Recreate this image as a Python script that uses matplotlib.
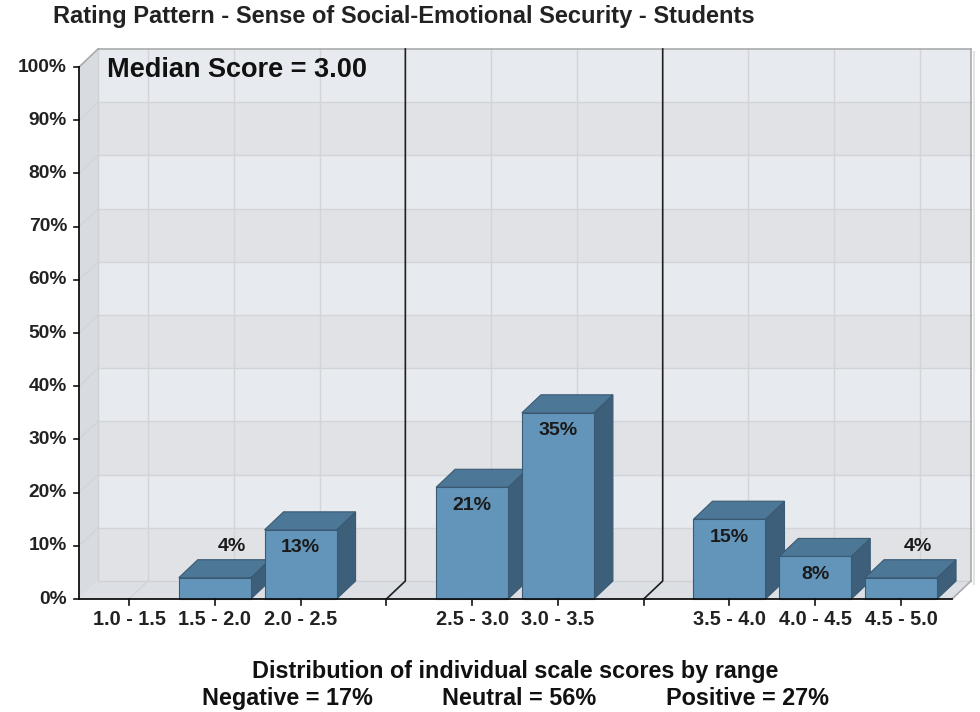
import matplotlib
matplotlib.use("Agg")
import matplotlib.pyplot as plt
from matplotlib.patches import Polygon

# ---------------- data ----------------
title = "Rating Pattern - Sense of Social-Emotional Security - Students"
median_text = "Median Score = 3.00"
ranges = ["1.0 - 1.5", "1.5 - 2.0", "2.0 - 2.5",
          "2.5 - 3.0", "3.0 - 3.5",
          "3.5 - 4.0", "4.0 - 4.5", "4.5 - 5.0"]
values = [0, 4, 13, 21, 35, 15, 8, 4]
group_sizes = [3, 2, 3]          # negative / neutral / positive
y_ticks = [0, 10, 20, 30, 40, 50, 60, 70, 80, 90, 100]
y_labels = [f"{v}%" for v in y_ticks]
footer1 = "Distribution of individual scale scores by range"
summary_labels = ["Negative = 17%", "Neutral = 56%", "Positive = 27%"]

# ---------------- styling ----------------
FONT = ["Liberation Sans", "DejaVu Sans"]
plt.rcParams["font.family"] = FONT
W, H = 980, 712
fig = plt.figure(figsize=(W / 100, H / 100), dpi=100)

px_left, px_right, px_bottom, px_top = 79, 952, 599, 67
ax = fig.add_axes([px_left / W, (H - px_bottom) / H,
                   (px_right - px_left) / W, (px_bottom - px_top) / H])

# slot positions (blank slot between groups)
positions = []
dividers = []
p = 0
for gi, g in enumerate(group_sizes):
    for _ in range(g):
        positions.append(p)
        p += 1
    if gi < len(group_sizes) - 1:
        dividers.append(p)
        p += 1
n_slots = p
x0, x1 = -0.583, n_slots - 1 + 0.594
ax.set_xlim(x0, x1)
ax.set_ylim(0, 100)
ax.axis("off")

slot_px = (px_right - px_left) / (x1 - x0)
py_per = (px_bottom - px_top) / 100.0
DX = 19 / slot_px
DY = 18 / py_per

wall_light = "#e7eaee"
wall_dark = "#e1e2e5"
side_col = "#d8dce0"
floor_col = "#dcdfe3"
grid_col = "#d2d4d7"
edge_gray = "#a9abad"

def poly(pts, fc, ec="none", lw=0, z=1):
    ax.add_patch(Polygon(pts, closed=True, facecolor=fc, edgecolor=ec,
                         linewidth=lw, zorder=z, clip_on=False))

# back wall bands
for i, y in enumerate(y_ticks[:-1]):
    col = wall_dark if (i % 2 == 0) else wall_light
    poly([(x0 + DX, y + DY), (x1 + DX, y + DY), (x1 + DX, y + 10 + DY),
          (x0 + DX, y + 10 + DY)], col, z=1)
# side wall
poly([(x0, 0), (x0 + DX, DY), (x0 + DX, 100 + DY), (x0, 100)], side_col, z=1)
# floor
poly([(x0, 0), (x1, 0), (x1 + DX, DY), (x0 + DX, DY)], floor_col, z=1)

# grid lines
for y in y_ticks[1:-1]:
    ax.plot([x0 + DX, x1 + DX], [y + DY, y + DY], color=grid_col, lw=1,
            zorder=2, clip_on=False)
    ax.plot([x0, x0 + DX], [y, y + DY], color=grid_col, lw=1, zorder=2,
            clip_on=False)
ax.plot([x0 + DX, x1 + DX], [DY, DY], color="#cfd2d5", lw=1, zorder=2,
        clip_on=False)
ax.plot([x0 + DX, x0 + DX], [DY, 100 + DY], color="#cfd2d5", lw=1, zorder=2,
        clip_on=False)
for xp in positions:
    ax.plot([xp + DX, xp + DX], [DY, 100 + DY], color=grid_col, lw=1,
            zorder=2, clip_on=False)
    ax.plot([xp, xp + DX], [0, DY], color=grid_col, lw=1, zorder=2,
            clip_on=False)

# outer frame edges
ax.plot([x0 + DX, x1 + DX], [100 + DY, 100 + DY], color=edge_gray, lw=1.2,
        zorder=3, clip_on=False)
ax.plot([x1 + DX, x1 + DX], [DY, 100 + DY], color=edge_gray, lw=1.2,
        zorder=3, clip_on=False)
ax.plot([x1 + DX + 0.03, x1 + DX + 0.03], [DY - 0.5, 100 + DY - 0.5],
        color="#e4e4e4", lw=1.5, zorder=2, clip_on=False)
ax.plot([x0, x0 + DX], [100, 100 + DY], color=edge_gray, lw=1.2, zorder=3,
        clip_on=False)
ax.plot([x1, x1 + DX], [0, DY], color=edge_gray, lw=1.2, zorder=3,
        clip_on=False)

# dividers between groups
for d in dividers:
    ax.plot([d, d + DX, d + DX], [0, DY, 100 + DY], color="#1e1e1e", lw=1.2,
            zorder=4, clip_on=False)

# bars (3D look)
bw = 72 / slot_px
front_c = "#6395ba"
top_c = "#4d7796"
side_c = "#3e5f79"
bar_edge = "#3a5a74"
for xp, v in zip(positions, values):
    if v <= 0:
        continue
    l, r = xp - bw / 2, xp + bw / 2
    poly([(r, 0), (r + DX, DY), (r + DX, v + DY), (r, v)], side_c, bar_edge,
         0.8, z=5)
    poly([(l, v), (r, v), (r + DX, v + DY), (l + DX, v + DY)], top_c,
         bar_edge, 0.8, z=5)
    poly([(l, 0), (r, 0), (r, v), (l, v)], front_c, bar_edge, 0.8, z=5)
    if v >= 6:
        ax.text(xp, v - 3.4, f"{v}%", ha="center", va="center",
                fontsize=14, fontweight="bold", color="#1a1a1a", zorder=6,
                clip_on=False)
    else:
        ax.text(xp + DX * 0.9, v + 5.8, f"{v}%", ha="center", va="center",
                fontsize=14, fontweight="bold", color="#1a1a1a", zorder=6,
                clip_on=False)

# axes lines (front)
ax.plot([x0, x0], [0, 100], color="#111111", lw=1.3, zorder=7, clip_on=False)
ax.plot([x0, x1], [0, 0], color="#111111", lw=1.3, zorder=7, clip_on=False)

# y ticks
tick_dx = 5 / slot_px
for y, lab in zip(y_ticks, y_labels):
    ax.plot([x0 - tick_dx, x0], [y, y], color="#111111", lw=1.2, zorder=7,
            clip_on=False)
    ax.text(x0 - 12 / slot_px, y, lab, ha="right", va="center",
            fontsize=13.8, fontweight="bold", color="#222222")

# x ticks
tick_dy = 6 / py_per
for xp in list(positions) + dividers:
    ax.plot([xp, xp], [0, -tick_dy], color="#111111", lw=1.2, zorder=7,
            clip_on=False)
for xp, lab in zip(positions, ranges):
    ax.text(xp, -11 / py_per, lab, ha="center", va="top", fontsize=14.3,
            fontweight="bold", color="#222222")

# texts
fig.text(53 / W, 1 - 16 / H, title, ha="left", va="center", fontsize=17,
         fontweight="bold", color="#222222")
fig.text(107 / W, 1 - 70 / H, median_text, ha="left", va="center",
         fontsize=19.5, fontweight="bold", color="#111111")
fig.text(515 / W, 1 - 678 / H, footer1, ha="center", va="baseline",
         fontsize=16.8, fontweight="bold", color="#111111")
for cx, s in zip([287, 519, 747], summary_labels):
    fig.text(cx / W, 1 - 705 / H, s, ha="center", va="baseline",
             fontsize=16.8, fontweight="bold", color="#111111")

fig.savefig("out.png", dpi=100)
